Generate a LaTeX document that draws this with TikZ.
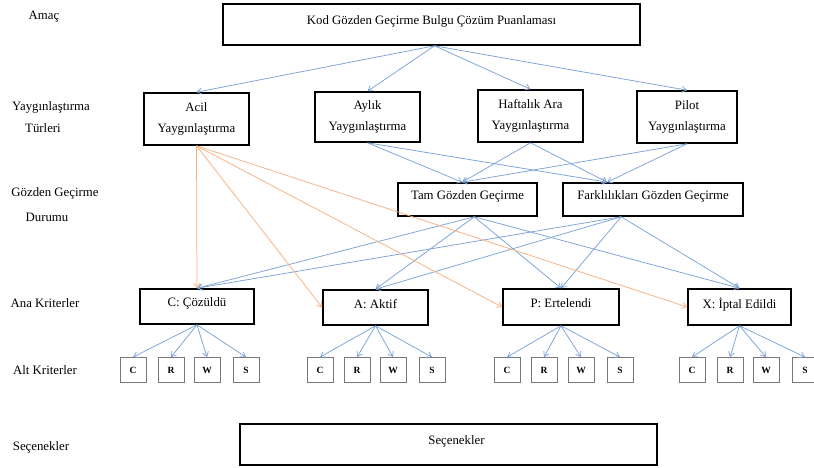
\documentclass[tikz,border=0pt]{standalone}
\usepackage{fontspec}
\setmainfont{Liberation Serif}
\usetikzlibrary{arrows.meta,calc}
\definecolor{blueline}{RGB}{124,163,214}
\definecolor{orangeline}{RGB}{247,178,128}
\definecolor{smallgray}{RGB}{120,120,120}
\begin{document}
\begin{tikzpicture}[x=1pt,y=-1pt,
  mainbox/.style={draw=black,line width=1.6pt,inner sep=2pt,font=\fontsize{12.8}{21}\selectfont,align=center},
  upbox/.style={mainbox,text depth=8pt},
  subbox/.style={draw=smallgray,line width=0.8pt,minimum width=26pt,minimum height=25pt,inner sep=0pt,font=\fontsize{9.5}{11}\selectfont\bfseries},
  lefttext/.style={font=\fontsize{12.8}{15}\selectfont,inner sep=0pt},
  barrow/.style={draw=blueline,line width=0.75pt,-{Straight Barb[length=4.5pt,width=6pt]}},
  oarrow/.style={draw=orangeline,line width=0.75pt,-{Straight Barb[length=4.5pt,width=6pt]}}]
\useasboundingbox (0,0) rectangle (814,468);
\fill[white] (0,0) rectangle (814,468);
% left labels
\node[lefttext] (l1) at (44,17) {Amaç};
\node[lefttext] (l2a) at (51,107) {Yaygınlaştırma};
\node[lefttext] (l2b) at (43,128) {Türleri};
\node[lefttext] (l3a) at (55,193) {Gözden Geçirme};
\node[lefttext] (l3b) at (47,217) {Durumu};
\node[lefttext] (l4) at (45,303) {Ana Kriterler};
\node[lefttext] (l5) at (45,370) {Alt Kriterler};
\node[lefttext] (l6) at (41,447) {Seçenekler};
% top
\node[upbox,minimum width=417pt,minimum height=41pt] (top) at (431.5,24.5) {Kod Gözden Geçirme Bulgu Çözüm Puanlaması};
% row 2
\node[mainbox,minimum width=105pt,minimum height=52pt] (acil) at (196.5,119) {Acil\\Yaygınlaştırma};
\node[mainbox,minimum width=105pt,minimum height=50pt] (aylik) at (367.5,117) {Aylık\\Yaygınlaştırma};
\node[mainbox,minimum width=105pt,minimum height=52pt] (haft) at (530.5,116) {Haftalık Ara\\Yaygınlaştırma};
\node[mainbox,minimum width=100pt,minimum height=52pt] (pilot) at (687,117) {Pilot\\Yaygınlaştırma};
% row 3
\node[upbox,minimum width=139pt,minimum height=33pt] (tam) at (467.5,199.5) {Tam Gözden Geçirme};
\node[upbox,minimum width=180pt,minimum height=33pt] (fark) at (653,199.5) {Farklılıkları Gözden Geçirme};
\coordinate (tamin) at ($(tam.north west)+(65,0)$);
\coordinate (tamout) at ($(tam.south west)+(77,0)$);
\coordinate (farkin) at ($(fark.north west)+(45,0)$);
\coordinate (farkout) at ($(fark.south west)+(59,0)$);
% row 4
\node[upbox,minimum width=114pt,minimum height=35pt] (cc) at (197,306.5) {C: Çözüldü};
\node[upbox,minimum width=105pt,minimum height=35pt] (aa) at (375.5,307.5) {A: Aktif};
\node[upbox,minimum width=116pt,minimum height=36pt] (pp) at (561,307) {P: Ertelendi};
\node[upbox,minimum width=103pt,minimum height=36pt] (xx) at (739.5,307) {X: İptal Edildi};
% bottom
\node[upbox,minimum width=417pt,minimum height=41pt] (opt) at (448.5,444.5) {\hspace*{16pt}Seçenekler};
% sub boxes
\foreach \p/\xa/\xb/\xc/\xd in {cc/133/171/207/246, aa/320/357/393/432, pp/507/544/581/620, xx/692/730/766/805}{
  \node[subbox] (\p c) at (\xa,370) {C};
  \node[subbox] (\p r) at (\xb,370) {R};
  \node[subbox] (\p w) at (\xc,370) {W};
  \node[subbox] (\p s) at (\xd,370) {S};
  \foreach \k in {c,r,w,s}{
    \draw[barrow] (\p.south) -- (\p\k.north);
  }
}
% top arrows
\foreach \t in {acil,aylik,haft,pilot}{
  \draw[barrow] ($(top.south)+(3,0)$) -- (\t.north);
}
% row 2 to row 3
\foreach \s in {aylik,haft,pilot}{
  \draw[barrow] (\s.south) -- (tamin);
  \draw[barrow] (\s.south) -- (farkin);
}
% row 3 to row 4
\foreach \t in {cc,aa,pp,xx}{
  \draw[barrow] (tamout) -- (\t.north);
  \draw[barrow] (farkout) -- (\t.north);
}
% orange
\draw[oarrow] (acil.south) -- (cc.north);
\draw[oarrow] (acil.south) -- (aa.west);
\draw[oarrow] (acil.south) -- (pp.west);
\draw[oarrow] (acil.south) -- (xx.west);
\end{tikzpicture}
\end{document}
